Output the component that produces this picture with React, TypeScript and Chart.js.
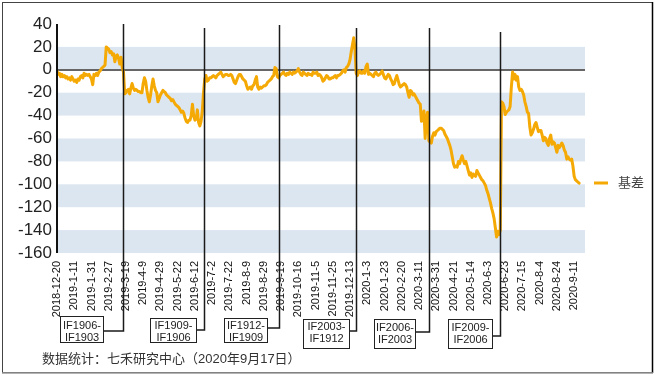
import { useEffect, useRef } from "react";
import { Chart, registerables } from "chart.js";

Chart.register(...registerables);

// ---------- data ----------
const tickLabels = [
  "2018-12-20", "2019-1-11", "2019-1-31", "2019-2-27", "2019-3-19", "2019-4-9",
  "2019-4-29", "2019-5-22", "2019-6-12", "2019-7-2", "2019-7-22", "2019-8-9",
  "2019-8-29", "2019-9-19", "2019-10-16", "2019-11-5", "2019-11-25", "2019-12-13",
  "2020-1-3", "2020-1-23", "2020-2-20", "2020-3-11", "2020-3-31", "2020-4-21",
  "2020-5-14", "2020-6-3", "2020-6-23", "2020-7-15", "2020-8-4", "2020-8-24", "2020-9-11",
];
const TICK_EVERY = 14; // trading days between tick labels

// 基差 per trading day, split by main contract
const basisIF1903 = [
  -1, -4, -3, -6, -4, -6, -5, -7, -6, -8, -7, -9, -6, -8, -10, -9, -11, -8, -9, -6,
  -5, -7, -3, -5, -4, -5, -4, -6, -8, -13, -4, -5, -3, -5, -2, -1, 1, 2, 3, 4,
  20, 19, 18, 15, 16, 13, 14, 7, 12, 13, 10, 5, 11, 2, -2,
];
const basisIF1906 = [
  -21, -20, -18, -17, -21, -16, -12, -16, -18, -17, -18, -19, -19, -20, -20, -12, -7, -10, -18, -24,
  -28, -22, -14, -8, -14, -18, -20, -28, -25, -22, -20, -18, -19, -20, -22, -23, -24, -25, -27, -26,
  -28, -30, -31, -32, -33, -35, -37, -36, -38, -42, -45, -46, -44, -44, -40, -30, -40, -44, -43, -35,
  -46, -49, -45, -36, -20,
];
const basisIF1909 = [
  -8, -5, -10, -9, -7, -7, -6, -5, -6, -7, -5, -4, -3, -2, -4, -6, -5, -4, -4, -5,
  -5, -4, -5, -8, -11, -12, -9, -6, -4, -4, -6, -8, -9, -10, -14, -17, -16, -15, -17, -14,
  -13, -9, -6, -15, -17, -15, -16, -15, -14, -14, -13, -11, -10, -9, -8, -6, -5, 2, 1, -6,
  -7,
];
const basisIF1912 = [
  -5, -4, -3, -2, -4, -5, -3, -4, -2, -3, -4, -2, -3, -2, -1, 1, -2, -4, -5, -2,
  -3, -4, -5, -3, -4, -4, -5, -2, -3, -3, -2, -5, -4, -5, -7, -10, -9, -7, -5, -6,
  -8, -8, -7, -7, -6, -5, -7, -5, -5, -4, -3, -1, 0, -2, 2, 3, 5, 9, 16, 22,
  28, 18, -3,
];
const basisIF2003 = [
  -5, -2, -1, -3, -3, -1, -3, 3, 5, -4, -3, -4, -5, -6, -3, -2, -4, -5, -4, -3,
  -1, -4, -7, -8, -6, -4, -5, -8, -10, -13, -12, -8, -5, -9, -13, -15, -14, -13, -12, -13,
  -15, -20, -24, -18, -19, -22, -21, -23, -25, -27, -29, -30, -45, -40, -36, -60, -42, -37, -62,
];
const basisIF2006 = [
  -63, -64, -58, -55, -57, -54, -53, -52, -51, -51, -52, -53, -56, -58, -60, -63, -66, -70, -76, -82,
  -85, -84, -85, -80, -82, -78, -75, -79, -82, -80, -84, -88, -92, -90, -94, -91, -92, -93, -88, -90,
  -92, -94, -96, -97, -99, -101, -105, -108, -112, -116, -121, -125, -130, -138, -146, -141, -144, -140,
];
const basisIF2009 = [
  -28, -29, -32, -39, -37, -36, -35, -32, -15, -2, -8, -4, -9, -6, -15, -18, -17, -19, -22, -28,
  -32, -37, -38, -50, -57, -55, -52, -48, -46, -50, -54, -53, -53, -57, -62, -59, -60, -64, -66, -60,
  -57, -65, -63, -64, -68, -72, -66, -68, -66, -64, -66, -70, -72, -78, -76, -78, -79, -78, -84, -93,
  -96, -97, -98, -99,
];

const rollLabels = [
  ["IF1906-", "IF1903"],
  ["IF1909-", "IF1906"],
  ["IF1912-", "IF1909"],
  ["IF2003-", "IF1912"],
  ["IF2006-", "IF2003"],
  ["IF2009-", "IF2006"],
];

const yTicks = { min: -160, max: 40, step: 20 };
const seriesName = "基差";
const sourceNote = "数据统计：七禾研究中心（2020年9月17日）";

// ---------- derived ----------
const segments = [basisIF1903, basisIF1906, basisIF1909, basisIF1912, basisIF2003, basisIF2006, basisIF2009];
const basis = segments.flat();
const rollIndex: number[] = [];
{
  let acc = 0;
  for (let s = 0; s < segments.length - 1; s++) {
    acc += segments[s].length;
    rollIndex.push(acc - 1);
  }
}
const X_MAX = 428;

// ---------- styles ----------
const ORANGE = "#f5a905";
const BAND = "#dce6f1";
const FONT = "'Liberation Sans', Arial, 'Noto Sans CJK SC', sans-serif";

// annotation box layout (style constants)
const boxLayout = [
  { gap: 21, w: 43, top: 316, bottom: 342, joinY: 331, textY: 326 },
  { gap: 9, w: 46, top: 318, bottom: 342, joinY: 330, textY: 326 },
  { gap: 13, w: 43, top: 318, bottom: 342, joinY: 328, textY: 326 },
  { gap: 8, w: 46, top: 319, bottom: 348, joinY: 331, textY: 327 },
  { gap: 15, w: 41, top: 319, bottom: 348, joinY: 332, textY: 328 },
  { gap: 9, w: 44, top: 319, bottom: 348, joinY: 336, textY: 328 },
];
const lineTopOffset = [0, 4, 1, 4, 4, 8];

const bandsPlugin = {
  id: "bands",
  beforeDatasetsDraw(chart: any) {
    const { ctx, chartArea, scales } = chart;
    const y = scales.y;
    ctx.save();
    ctx.fillStyle = BAND;
    for (let v = yTicks.min; v < yTicks.max; v += yTicks.step * 2) {
      const top = y.getPixelForValue(v + yTicks.step);
      const bot = y.getPixelForValue(v);
      ctx.fillRect(chartArea.left, top, chartArea.right - chartArea.left + 1, bot - top);
    }
    const y0 = Math.round(y.getPixelForValue(0));
    ctx.strokeStyle = "#666";
    ctx.lineWidth = 2;
    ctx.beginPath();
    ctx.moveTo(chartArea.left, y0);
    ctx.lineTo(chartArea.right + 1, y0);
    ctx.stroke();
    ctx.restore();
  },
};

const overlayPlugin = {
  id: "overlay",
  afterDraw(chart: any) {
    const { ctx, chartArea, scales, width, height } = chart;
    const x = scales.x;
    ctx.save();
    // y axis line
    ctx.strokeStyle = "#111";
    ctx.lineWidth = 2;
    ctx.beginPath();
    ctx.moveTo(chartArea.left, chartArea.top);
    ctx.lineTo(chartArea.left, chartArea.bottom);
    ctx.stroke();

    // roll lines + annotation boxes
    ctx.font = `11px ${FONT}`;
    ctx.textAlign = "center";
    ctx.textBaseline = "middle";
    rollIndex.forEach((idx, k) => {
      const L = boxLayout[k];
      const px = Math.round(x.getPixelForValue(idx)) + 0.5;
      ctx.strokeStyle = "#1a1a1a";
      ctx.lineWidth = 1.5;
      ctx.beginPath();
      ctx.moveTo(px, chartArea.top + lineTopOffset[k]);
      ctx.lineTo(px, L.joinY);
      ctx.lineTo(px - L.gap, L.joinY);
      ctx.stroke();
      const right = Math.round(px - L.gap) + 0.5;
      const left = right - L.w;
      ctx.fillStyle = "#fff";
      ctx.fillRect(left, L.top + 0.5, L.w, L.bottom - L.top);
      ctx.strokeStyle = "#222";
      ctx.lineWidth = 1;
      ctx.strokeRect(left, L.top + 0.5, L.w, L.bottom - L.top);
      ctx.fillStyle = "#222";
      ctx.fillText(rollLabels[k][0], left + L.w / 2, L.textY);
      ctx.fillText(rollLabels[k][1], left + L.w / 2, L.textY + 11.5);
    });

    // legend
    const ly = 183;
    ctx.strokeStyle = ORANGE;
    ctx.lineWidth = 3;
    ctx.beginPath();
    ctx.moveTo(chartArea.right + 10, ly);
    ctx.lineTo(chartArea.right + 24, ly);
    ctx.stroke();
    ctx.fillStyle = "#444";
    ctx.font = `13px ${FONT}`;
    ctx.textAlign = "left";
    ctx.fillText(seriesName, chartArea.right + 34, ly);

    // source note
    ctx.fillStyle = "#333";
    ctx.font = `13px ${FONT}`;
    ctx.fillText(sourceNote, 42, 359);

    // outer frame
    ctx.strokeStyle = "#444";
    ctx.lineWidth = 1;
    ctx.strokeRect(2.5, 2.5, width - 5, height - 8);
    ctx.strokeStyle = "#000";
    ctx.lineWidth = 1.5;
    ctx.beginPath();
    ctx.moveTo(width - 2.5, 2);
    ctx.lineTo(width - 2.5, height - 5);
    ctx.stroke();
    ctx.strokeStyle = "#999";
    ctx.lineWidth = 1.5;
    ctx.beginPath();
    ctx.moveTo(2, height - 5);
    ctx.lineTo(width - 2, height - 5);
    ctx.stroke();
    ctx.restore();
  },
};

export default function App() {
  const canvasRef = useRef<HTMLCanvasElement | null>(null);

  useEffect(() => {
    const canvas = canvasRef.current;
    if (!canvas) return;
    const chart = new Chart(canvas, {
      type: "line",
      data: {
        datasets: [
          {
            label: seriesName,
            data: basis.map((v, i) => ({ x: i, y: v })),
            borderColor: ORANGE,
            backgroundColor: ORANGE,
            borderWidth: 3,
            borderJoinStyle: "round",
            borderCapStyle: "round",
            pointRadius: 0,
            tension: 0,
            fill: false,
          },
        ],
      },
      options: {
        animation: false,
        responsive: false,
        maintainAspectRatio: false,
        layout: { padding: { left: 0, right: 71, top: 24, bottom: 0 } },
        plugins: { legend: { display: false }, tooltip: { enabled: false } },
        scales: {
          x: {
            type: "linear",
            min: 0,
            max: X_MAX,
            grid: { display: false, drawTicks: false },
            border: { display: false },
            afterBuildTicks: (s: any) => {
              s.ticks = tickLabels.map((_, i) => ({ value: i * TICK_EVERY }));
            },
            afterFit: (s: any) => {
              s.height = 125;
            },
            ticks: {
              autoSkip: false,
              maxRotation: 90,
              minRotation: 90,
              padding: 8,
              color: "#111",
              font: { family: FONT, size: 11 },
              callback: (v: any) => tickLabels[Math.round(Number(v) / TICK_EVERY)] ?? "",
            },
          },
          y: {
            min: yTicks.min,
            max: yTicks.max,
            grid: { display: false, drawTicks: false },
            border: { display: false },
            afterBuildTicks: (s: any) => {
              const t: any[] = [];
              for (let v = yTicks.min; v <= yTicks.max; v += yTicks.step) t.push({ value: v });
              s.ticks = t;
            },
            afterFit: (s: any) => {
              s.width = 57;
            },
            ticks: {
              autoSkip: false,
              stepSize: yTicks.step,
              padding: 5,
              color: "#222",
              font: { family: FONT, size: 17 },
            },
          },
        },
      },
      plugins: [bandsPlugin, overlayPlugin],
    } as any);
    return () => chart.destroy();
  }, []);

  return (
    <div style={{ position: "absolute", left: 0, top: 0, width: 655, height: 378, background: "#fff" }}>
      <canvas ref={canvasRef} width={655} height={378} style={{ display: "block" }} />
    </div>
  );
}
